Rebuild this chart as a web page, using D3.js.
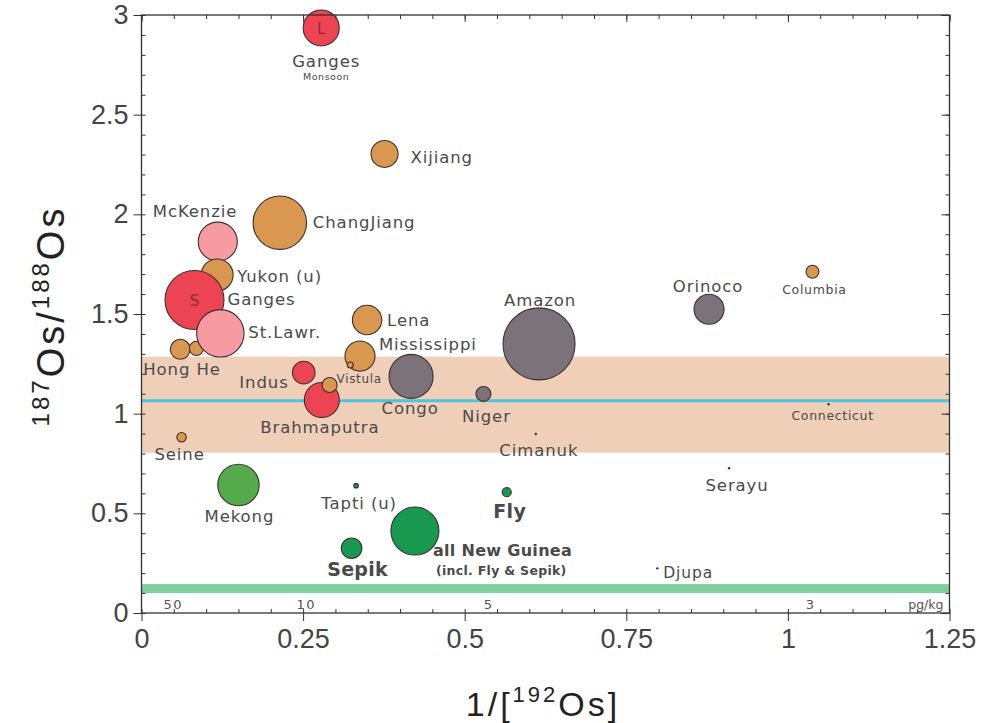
<!DOCTYPE html>
<html>
<head>
<meta charset="utf-8">
<script src="https://cdn.jsdelivr.net/npm/d3@7"></script>
<style>
  body { margin: 0; background: #fff; }
  svg { display: block; }
  .tick text { font-family: "Liberation Sans", Arial, sans-serif; fill: #444; }
  .river-label { font-family: "DejaVu Sans", Verdana, sans-serif; fill: #4a4a4a; }
</style>
</head>
<body>
<div id="chart"></div>
<script>
// --- Data ---
const rivers = ["Hong He A", "Hong He", "McKenzie", "Yukon (u)", "Ganges S", "St.Lawr.", "Ganges L",
  "Xijiang", "ChangJiang", "Lena", "Mississippi", "Mississippi (s)", "Indus", "Brahmaputra", "Vistula",
  "Congo", "Seine", "Amazon", "Niger", "Cimanuk", "Mekong", "Tapti (u)", "Fly", "all New Guinea",
  "Sepik", "Orinoco", "Columbia", "Connecticut", "Serayu", "Djupa"];
const invOs = [0.060, 0.085, 0.118, 0.117, 0.082, 0.122, 0.278,
  0.376, 0.214, 0.349, 0.338, 0.323, 0.251, 0.279, 0.291,
  0.417, 0.062, 0.615, 0.529, 0.610, 0.150, 0.332, 0.565, 0.423,
  0.325, 0.878, 1.038, 1.063, 0.909, 0.798];
const osRatio = [1.323, 1.328, 1.863, 1.696, 1.570, 1.403, 2.935,
  2.303, 1.958, 1.470, 1.289, 1.244, 1.206, 1.069, 1.144,
  1.187, 0.882, 1.350, 1.099, 0.898, 0.642, 0.639, 0.606, 0.411,
  0.325, 1.524, 1.712, 1.047, 0.726, 0.224];
// relative flux (bubble area)
const flux = [6.2, 3.1, 23.8, 16.0, 54.4, 35.1, 20.3,
  11.4, 44.6, 13.5, 14.1, 0.56, 8.0, 19.1, 3.5,
  30.3, 1.4, 81.0, 3.5, 0.1, 26.8, 0.33, 1.3, 36.0,
  6.6, 14.1, 2.6, 0.06, 0.06, 0.06];
const groups = ["brown", "brown", "pink", "brown", "red", "pink", "red",
  "brown", "brown", "brown", "brown", "brown", "red", "red", "brown",
  "gray", "brown", "gray", "gray", "dot", "lightgreen", "green", "green", "green",
  "green", "gray", "brown", "dot", "dot", "dot"];

// reference ranges
const crustBand = [0.804, 1.286];
const crustMean = 1.065;
const mantleBand = [0.10, 0.145];

// concentration scale along the bottom (pg/kg)
const concLabels = ["50", "10", "5", "3"];
const concPos = [0.049, 0.255, 0.537, 1.035];

const xTicks = [0, 0.25, 0.5, 0.75, 1, 1.25];
const yTicks = [0, 0.5, 1, 1.5, 2, 2.5, 3];

// label placement (px offsets from the bubble centre)
const labelLayout = [
  { river: "Ganges L", text: "Ganges", dx: 5, dy: 39, anchor: "middle", size: 16.5 },
  { river: "Ganges L", text: "Monsoon", dx: 5, dy: 52, anchor: "middle", size: 9.5 },
  { river: "Xijiang", text: "Xijiang", dx: 26, dy: 9, anchor: "start", size: 16.5 },
  { river: "ChangJiang", text: "ChangJiang", dx: 33, dy: 5, anchor: "start", size: 16.5 },
  { river: "McKenzie", text: "McKenzie", dx: -65, dy: -25, anchor: "start", size: 16.5 },
  { river: "Yukon (u)", text: "Yukon (u)", dx: 20, dy: 7, anchor: "start", size: 16.5 },
  { river: "Ganges S", text: "Ganges", dx: 33, dy: 5, anchor: "start", size: 16.5 },
  { river: "St.Lawr.", text: "St.Lawr.", dx: 28, dy: 5, anchor: "start", size: 16.5 },
  { river: "Hong He A", text: "Hong He", dx: -37, dy: 26, anchor: "start", size: 16.5 },
  { river: "Indus", text: "Indus", dx: -15, dy: 15, anchor: "end", size: 16.5 },
  { river: "Vistula", text: "Vistula", dx: 7, dy: -2, anchor: "start", size: 12 },
  { river: "Lena", text: "Lena", dx: 20, dy: 6, anchor: "start", size: 16.5 },
  { river: "Mississippi", text: "Mississippi", dx: 19, dy: -6, anchor: "start", size: 16.5 },
  { river: "Brahmaputra", text: "Brahmaputra", dx: -2, dy: 33, anchor: "middle", size: 16.5 },
  { river: "Congo", text: "Congo", dx: -1, dy: 38, anchor: "middle", size: 16.5 },
  { river: "Amazon", text: "Amazon", dx: 1, dy: -38, anchor: "middle", size: 16.5 },
  { river: "Niger", text: "Niger", dx: 3, dy: 28, anchor: "middle", size: 16.5 },
  { river: "Cimanuk", text: "Cimanuk", dx: 3, dy: 22, anchor: "middle", size: 16.5 },
  { river: "Seine", text: "Seine", dx: -2, dy: 23, anchor: "middle", size: 16.5 },
  { river: "Mekong", text: "Mekong", dx: 1, dy: 37, anchor: "middle", size: 16.5 },
  { river: "Tapti (u)", text: "Tapti (u)", dx: 3, dy: 23, anchor: "middle", size: 16.5 },
  { river: "Fly", text: "Fly", dx: 3, dy: 26, anchor: "middle", size: 19, bold: true },
  { river: "all New Guinea", text: "all New Guinea", dx: 18, dy: 25, anchor: "start", size: 16, bold: true },
  { river: "all New Guinea", text: "(incl. Fly & Sepik)", dx: 21, dy: 44, anchor: "start", size: 12.5, bold: true },
  { river: "Sepik", text: "Sepik", dx: 6, dy: 28, anchor: "middle", size: 19, bold: true },
  { river: "Orinoco", text: "Orinoco", dx: -1, dy: -17, anchor: "middle", size: 16.5 },
  { river: "Columbia", text: "Columbia", dx: 2, dy: 22, anchor: "middle", size: 12.5 },
  { river: "Connecticut", text: "Connecticut", dx: 4, dy: 16, anchor: "middle", size: 12.5 },
  { river: "Serayu", text: "Serayu", dx: 8, dy: 23, anchor: "middle", size: 16.5 },
  { river: "Djupa", text: "Djupa", dx: 6, dy: 10, anchor: "start", size: 15.5 }
];

const colors = {
  brown: "#d9974f", red: "#ec4452", pink: "#f89aa2", gray: "#7b7379",
  lightgreen: "#55ab4c", green: "#179a4f", dot: "#333"
};

// --- Chart ---
const W = 987, H = 723;
const margin = { top: 15, right: 37.5, bottom: 110, left: 141.5 };

const svg = d3.select("#chart").append("svg")
  .attr("width", W).attr("height", H);

const x = d3.scaleLinear().domain([0, 1.25]).range([margin.left, W - margin.right]);
const y = d3.scaleLinear().domain([0, 3]).range([H - margin.bottom, margin.top]);
const r = d3.scaleSqrt().domain([0, 100]).range([0, 40]);

const points = rivers.map((name, i) => ({
  name, x: invOs[i], y: osRatio[i], flux: flux[i], group: groups[i]
}));
const byName = new Map(points.map(d => [d.name, d]));

// reference bands
svg.append("rect")
  .attr("x", x(0)).attr("width", x(1.25) - x(0))
  .attr("y", y(crustBand[1])).attr("height", y(crustBand[0]) - y(crustBand[1]))
  .attr("fill", "#f0cfb9");
svg.append("line")
  .attr("x1", x(0)).attr("x2", x(1.25))
  .attr("y1", y(crustMean)).attr("y2", y(crustMean))
  .attr("stroke", "#4dc3de").attr("stroke-width", 3);
svg.append("rect")
  .attr("x", x(0)).attr("width", x(1.25) - x(0))
  .attr("y", y(mantleBand[1])).attr("height", y(mantleBand[0]) - y(mantleBand[1]))
  .attr("fill", "#7fcf9d");

// bubbles
svg.append("g").selectAll("circle")
  .data(points)
  .join("circle")
  .attr("cx", d => x(d.x))
  .attr("cy", d => y(d.y))
  .attr("r", d => d.group === "dot" ? 1.2 : Math.max(2, r(d.flux)))
  .attr("fill", d => colors[d.group])
  .attr("stroke", d => d.group === "dot" ? "none" : "#3a3030")
  .attr("stroke-width", 1.1);

// L / S marks on Ganges
[["Ganges L", "L"], ["Ganges S", "S"]].forEach(([k, t]) => {
  const d = byName.get(k);
  svg.append("text")
    .attr("x", x(d.x)).attr("y", y(d.y) + 6)
    .attr("text-anchor", "middle")
    .style("font-family", "DejaVu Sans, sans-serif").style("font-size", "15px")
    .attr("fill", "#8e2b33").text(t);
});

// river labels
svg.append("g").selectAll("text")
  .data(labelLayout)
  .join("text")
  .attr("class", "river-label")
  .attr("x", d => x(byName.get(d.river).x) + d.dx)
  .attr("y", d => y(byName.get(d.river).y) + d.dy)
  .attr("text-anchor", d => d.anchor)
  .style("font-size", d => d.size + "px")
  .style("font-weight", d => d.bold ? "bold" : "normal")
  .style("letter-spacing", d => d.bold ? "0.3px" : (d.size * 0.055) + "px")
  .attr("fill", d => d.bold ? "#3c3c3c" : "#4a4a4a")
  .text(d => d.text);

// concentration labels
svg.append("g").selectAll("text")
  .data(concLabels)
  .join("text")
  .attr("x", (d, i) => x(concPos[i]))
  .attr("y", y(0) - 4)
  .attr("text-anchor", "middle")
  .style("font-family", "DejaVu Sans, sans-serif").style("font-size", "13px")
  .style("letter-spacing", "1.5px")
  .attr("fill", "#555").text(d => d);
svg.append("text")
  .attr("x", x(1.25) - 6).attr("y", y(0) - 4)
  .attr("text-anchor", "end")
  .style("font-family", "DejaVu Sans, sans-serif").style("font-size", "12.5px")
  .attr("fill", "#555").text("pg/kg");

// --- Axes ---
const axisColor = "#333";
function styleAxis(g) {
  g.select(".domain").remove();
  g.selectAll("line").attr("stroke", axisColor);
}

// frame
svg.append("rect")
  .attr("x", x(0)).attr("y", y(3))
  .attr("width", x(1.25) - x(0)).attr("height", y(0) - y(3))
  .attr("fill", "none").attr("stroke", axisColor).attr("stroke-width", 1.3);

// bottom: major outward with labels, minor inward
svg.append("g").attr("transform", `translate(0,${y(0)})`)
  .call(d3.axisBottom(x).tickValues(xTicks).tickSize(8).tickPadding(8).tickFormat(d3.format("")))
  .call(styleAxis)
  .call(g => g.selectAll("text").style("font-size", "27px"));
svg.append("g").attr("transform", `translate(0,${y(0)})`)
  .call(d3.axisTop(x).ticks(25).tickSize(4).tickFormat(""))
  .call(styleAxis);

// top: inward ticks
svg.append("g").attr("transform", `translate(0,${y(3)})`)
  .call(d3.axisBottom(x).ticks(25).tickSize(4).tickFormat(""))
  .call(styleAxis);
svg.append("g").attr("transform", `translate(0,${y(3)})`)
  .call(d3.axisBottom(x).tickValues(xTicks).tickSize(7).tickFormat(""))
  .call(styleAxis);

// left: major outward with labels, minor inward
svg.append("g").attr("transform", `translate(${x(0)},0)`)
  .call(d3.axisLeft(y).tickValues(yTicks).tickSize(8).tickPadding(5).tickFormat(d3.format("")))
  .call(styleAxis)
  .call(g => g.selectAll("text").style("font-size", "27px"));
svg.append("g").attr("transform", `translate(${x(0)},0)`)
  .call(d3.axisRight(y).ticks(30).tickSize(4).tickFormat(""))
  .call(styleAxis);

// right: inward ticks
svg.append("g").attr("transform", `translate(${x(1.25)},0)`)
  .call(d3.axisLeft(y).ticks(30).tickSize(4).tickFormat(""))
  .call(styleAxis);
svg.append("g").attr("transform", `translate(${x(1.25)},0)`)
  .call(d3.axisLeft(y).tickValues(yTicks).tickSize(8).tickFormat(""))
  .call(styleAxis);

// axis titles
const titleFont = "Liberation Sans, Arial, sans-serif";
const xTitle = svg.append("text")
  .attr("x", 543).attr("y", 716)
  .attr("text-anchor", "middle")
  .style("font-family", titleFont).style("font-size", "34px")
  .style("letter-spacing", "3px").attr("fill", "#222");
xTitle.append("tspan").text("1/[");
xTitle.append("tspan").attr("dy", -14).style("font-size", "22px").text("192");
xTitle.append("tspan").attr("dy", 14).text("Os]");

const yTitle = svg.append("text")
  .attr("transform", `translate(64,${y(1.49)}) rotate(-90)`)
  .attr("text-anchor", "middle")
  .style("font-family", titleFont).style("font-size", "38px")
  .style("letter-spacing", "3px").attr("fill", "#222");
yTitle.append("tspan").attr("dy", -15).style("font-size", "24px").text("187");
yTitle.append("tspan").attr("dy", 15).text("Os/");
yTitle.append("tspan").attr("dy", -15).style("font-size", "24px").text("188");
yTitle.append("tspan").attr("dy", 15).text("Os");
</script>
</body>
</html>
